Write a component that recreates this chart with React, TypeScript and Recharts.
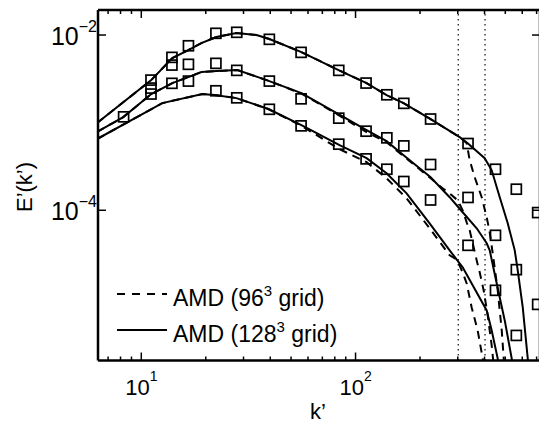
import React from "react";
import { ComposedChart, Line, Scatter, XAxis, YAxis, ReferenceLine, Legend } from "recharts";

const FONT = '"Liberation Sans", Arial, Helvetica, sans-serif';

// square markers: wavenumbers and the three spectra
const kExp = [8.27, 11.1, 13.9, 16.6, 22.3, 27.9, 39.6, 55.7, 83.5, 112, 140, 168, 224, 335, 450, 563, 708];
const eExpA = [null, 3.06e-3, 5.56e-3, 7.54e-3, 1.046e-2, 1.074e-2, 8.93e-3, 6.34e-3, 3.95e-3, 2.83e-3, 2.08e-3, 1.66e-3, 1.1e-3, 5.78e-4, 2.94e-4, 1.74e-4, 9.41e-5];
const eExpB = [1.165e-3, 2.48e-3, 4.54e-3, 4.63e-3, 4.75e-3, 3.95e-3, 2.98e-3, 1.87e-3, 1.125e-3, 7.99e-4, 6.71e-4, 5.43e-4, 3.33e-4, 1.4e-4, 5.18e-5, 2.1e-5, 8.43e-6];
const eExpC = [null, 2.12e-3, 2.81e-3, 2.98e-3, 2.31e-3, 1.92e-3, 1.42e-3, 9.19e-4, 5.68e-4, 3.86e-4, 2.94e-4, 2.13e-4, 1.31e-4, 3.98e-5, 1.22e-5, 3.73e-6, null];

// AMD 128^3 (solid)
const kSolidA = [6.2, 11.13, 13.96, 16.58, 19.07, 22.4, 27.8, 34.5, 39.6, 55.9, 83.3, 112.6, 139.6, 167.6, 224.1, 306.2, 333.8, 400.6, 432, 471, 513.2, 553.4, 571.5, 603.2, 636.5, 657.4];
const eSolidA = [9.87e-4, 3.06e-3, 5.46e-3, 6.74e-3, 8.1e-3, 9.49e-3, 1.054e-2, 1.0e-2, 9.0e-3, 6.39e-3, 3.98e-3, 2.83e-3, 2.06e-3, 1.67e-3, 1.096e-3, 6.83e-4, 5.83e-4, 3.93e-4, 2.86e-4, 1.41e-4, 7.1e-5, 3.49e-5, 2.06e-5, 7.79e-6, 2.03e-6, 6.74e-7];
const kSolidB = [6.2, 8.24, 11.13, 13.96, 16.58, 19.07, 22.4, 28.1, 39.6, 55.9, 83.3, 112.6, 139.6, 167.6, 224.1, 275, 316.2, 367.7, 409.4, 422.9, 456, 497, 535.8, 553.4];
const eSolidB = [7.79e-4, 1.156e-3, 2.12e-3, 2.83e-3, 3.31e-3, 3.78e-3, 3.88e-3, 3.98e-3, 2.98e-3, 2.17e-3, 1.25e-3, 8.21e-4, 6.15e-4, 4.25e-4, 2.38e-4, 1.41e-4, 9.49e-5, 6.23e-5, 4.2e-5, 3.49e-5, 1.46e-5, 5.53e-6, 2.03e-6, 1e-6];
const kSolidC = [6.2, 12.53, 19.28, 22.4, 27.8, 39.2, 55.9, 84.2, 112.6, 139.6, 173.1, 221.7, 275, 316.2, 409.4, 432, 460.9, 471];
const eSolidC = [6.48e-4, 1.67e-3, 2.12e-3, 2.06e-3, 1.905e-3, 1.43e-3, 9.36e-4, 5.53e-4, 3.93e-4, 2.65e-4, 1.56e-4, 7.1e-5, 3.49e-5, 2.23e-5, 7.2e-6, 4.25e-6, 2.03e-6, 1.14e-6];

// AMD 96^3 (dashed)
const kDashA = [6.2, 11.13, 13.96, 16.58, 19.07, 22.4, 27.8, 34.5, 39.6, 55.9, 83.3, 112.6, 139.6, 167.6, 224.1, 306.2, 330.2, 341, 359.9, 388, 409.4, 422.9, 436.8, 460.9, 481.2, 491.6, 502.3];
const eDashA = [9.87e-4, 3.06e-3, 5.46e-3, 6.74e-3, 8.1e-3, 9.49e-3, 1.054e-2, 1.0e-2, 9.0e-3, 6.39e-3, 3.98e-3, 2.83e-3, 2.06e-3, 1.67e-3, 1.096e-3, 6.83e-4, 5.83e-4, 3.73e-4, 2.38e-4, 1.41e-4, 8.32e-5, 5.61e-5, 3.23e-5, 1.22e-5, 4.25e-6, 2.03e-6, 1.14e-6];
const kDashB = [6.2, 8.24, 11.13, 13.96, 16.58, 19.07, 22.4, 28.1, 39.6, 55.9, 83.3, 112.6, 139.6, 167.6, 224.1, 255, 275, 299.7, 316.2, 330.2, 341, 367.7, 379.7, 396.3, 413.9, 432, 441.5];
const eDashB = [7.79e-4, 1.156e-3, 2.12e-3, 2.83e-3, 3.31e-3, 3.78e-3, 3.88e-3, 3.98e-3, 2.98e-3, 2.15e-3, 1.22e-3, 7.79e-4, 5.98e-4, 4.14e-4, 2.32e-4, 1.78e-4, 1.56e-4, 1.3e-4, 1.0e-4, 7.29e-5, 5.91e-5, 2.68e-5, 1.96e-5, 1.22e-5, 6.31e-6, 2.86e-6, 1.69e-6];
const kDashC = [6.2, 12.53, 19.28, 22.4, 27.8, 39.2, 55.9, 84.2, 112.6, 139.6, 173.1, 221.7, 275, 296.5, 316.2, 330.2, 348.3, 371.6, 392.3, 400.6];
const eDashC = [6.48e-4, 1.67e-3, 2.12e-3, 2.06e-3, 1.905e-3, 1.43e-3, 9.2e-4, 4.98e-4, 3.54e-4, 2.32e-4, 1.37e-4, 6.23e-5, 3.06e-5, 2.75e-5, 1.96e-5, 1.46e-5, 7.79e-6, 4.25e-6, 2.03e-6, 1.3e-6];

// grid cutoffs (96^3 and 128^3)
const cutoffs = [301.6, 402.1];

const xTicks = [7, 8, 9, 10, 20, 30, 40, 50, 60, 70, 80, 90, 100, 200, 300, 400, 500, 600, 700];
const yTicks = [1e-4, 1e-2];

const pts = (ks: number[], es: (number | null)[]) =>
  ks.map((k, i) => ({ k, e: es[i] })).filter((p) => p.e != null);

const isMajor = (v: number) => v === 10 || v === 100;
const expOf = (v: number) => Math.round(Math.log10(v));

const BottomTick = (p: any) => {
  const v = p.payload.value;
  const major = isMajor(v);
  return (
    <g>
      <line x1={p.x} x2={p.x} y1={p.y} y2={p.y - (major ? 8 : 4)} stroke="#000" strokeWidth={1.5} />
      {major && (
        <text x={p.x} y={p.y + 34.5} textAnchor="middle" fontSize={22} fontFamily={FONT} fill="#000">
          10<tspan dy={-14} fontSize={14}>{expOf(v)}</tspan>
        </text>
      )}
    </g>
  );
};

const TopTick = (p: any) => {
  const major = isMajor(p.payload.value);
  return <line x1={p.x} x2={p.x} y1={p.y} y2={p.y + (major ? 8 : 4)} stroke="#000" strokeWidth={1.5} />;
};

const LeftTick = (p: any) => (
  <g>
    <line x1={p.x} x2={p.x + 8} y1={p.y} y2={p.y} stroke="#000" strokeWidth={1.5} />
    <text x={p.x - 1} y={p.y + 10} textAnchor="end" fontSize={25} fontFamily={FONT} fill="#000">
      10<tspan dy={-13} fontSize={16}>{"\u2212" + Math.abs(expOf(p.payload.value))}</tspan>
    </text>
  </g>
);

const RightTick = (p: any) => <line x1={p.x} x2={p.x - 8} y1={p.y} y2={p.y} stroke="#000" strokeWidth={1.5} />;

const Square = (p: any) =>
  p.cx == null ? null : (
    <rect x={p.cx - 5} y={p.cy - 5} width={10} height={10} fill="none" stroke="#000" strokeWidth={1.7} />
  );

const LegendBox = () => (
  <svg width={260} height={72} style={{ fontFamily: FONT }}>
    <line x1={7} x2={57} y1={14} y2={14} stroke="#000" strokeWidth={2} strokeDasharray="8 7" />
    <text x={63} y={26} fontSize={23} fill="#000">
      AMD (96<tspan dy={-10} fontSize={15}>3</tspan><tspan dy={10}> grid)</tspan>
    </text>
    <line x1={7} x2={57} y1={50} y2={50} stroke="#000" strokeWidth={2} />
    <text x={63} y={62} fontSize={23} fill="#000">
      AMD (128<tspan dy={-10} fontSize={15}>3</tspan><tspan dy={10}> grid)</tspan>
    </text>
  </svg>
);

const axisLine = { stroke: "#000", strokeWidth: 2.5 };

export default function App() {
  const solid = [pts(kSolidA, eSolidA), pts(kSolidB, eSolidB), pts(kSolidC, eSolidC)];
  const dashed = [pts(kDashA, eDashA), pts(kDashB, eDashB), pts(kDashC, eDashC)];
  const squares = [pts(kExp, eExpA), pts(kExp, eExpB), pts(kExp, eExpC)];

  return (
    <div style={{ position: "fixed", left: 0, top: 0, width: 539, height: 425, overflow: "hidden", background: "#fff" }}>
      <ComposedChart width={560} height={425} margin={{ top: 0, right: 0, bottom: 0, left: 0 }}>
        <XAxis
          dataKey="k"
          type="number"
          scale="log"
          domain={[6.28, 726]}
          allowDataOverflow
          ticks={xTicks}
          interval={0}
          height={64.5}
          tickSize={0}
          tickMargin={0}
          tickLine={false}
          axisLine={axisLine}
          tick={BottomTick}
          label={{
            content: () => (
              <text x={318} y={419} textAnchor="middle" fontSize={22} fontFamily={FONT} fill="#000">
                k’
              </text>
            ),
          }}
        />
        <XAxis
          xAxisId="top"
          orientation="top"
          dataKey="k"
          type="number"
          scale="log"
          domain={[6.28, 726]}
          allowDataOverflow
          ticks={xTicks}
          interval={0}
          height={10}
          tickSize={0}
          tickMargin={0}
          tickLine={false}
          axisLine={axisLine}
          tick={TopTick}
        />
        <YAxis
          dataKey="e"
          type="number"
          scale="log"
          domain={[1.93e-6, 1.93e-2]}
          allowDataOverflow
          ticks={yTicks}
          interval={0}
          width={98}
          tickSize={0}
          tickMargin={0}
          tickLine={false}
          axisLine={axisLine}
          tick={LeftTick}
          label={{
            content: () => (
              <text transform="translate(32,187) rotate(-90)" textAnchor="middle" fontSize={22} fontFamily={FONT} fill="#000">
                E’(k’)
              </text>
            ),
          }}
        />
        <YAxis
          yAxisId="right"
          orientation="right"
          dataKey="e"
          type="number"
          scale="log"
          domain={[1.93e-6, 1.93e-2]}
          allowDataOverflow
          ticks={yTicks}
          interval={0}
          width={20}
          tickSize={0}
          tickMargin={0}
          tickLine={false}
          axisLine={axisLine}
          tick={RightTick}
        />
        {cutoffs.map((c) => (
          <ReferenceLine key={c} x={c} stroke="#222" strokeWidth={1.3} strokeDasharray="1.5 3.5" />
        ))}
        {dashed.map((d, i) => (
          <Line
            key={"d" + i}
            data={d}
            dataKey="e"
            type="linear"
            stroke="#000"
            strokeWidth={2}
            strokeDasharray="8 6"
            dot={false}
            activeDot={false}
            isAnimationActive={false}
          />
        ))}
        {solid.map((d, i) => (
          <Line
            key={"s" + i}
            data={d}
            dataKey="e"
            type="linear"
            stroke="#000"
            strokeWidth={2}
            dot={false}
            activeDot={false}
            isAnimationActive={false}
          />
        ))}
        {squares.map((d, i) => (
          <Scatter key={"q" + i} data={d} dataKey="e" shape={Square} isAnimationActive={false} />
        ))}
        <Legend
          layout="vertical"
          align="center"
          verticalAlign="middle"
          content={LegendBox}
          wrapperStyle={{ left: 110, top: 280, width: 260, height: 72 }}
        />
      </ComposedChart>
    </div>
  );
}
